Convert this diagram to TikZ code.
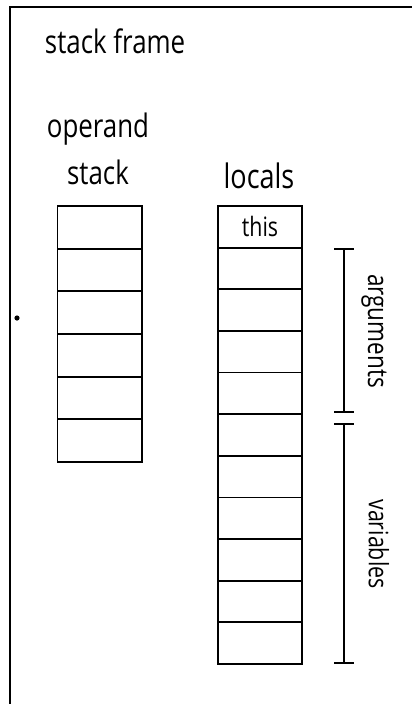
\documentclass[tikz,border=0pt]{standalone}
\usepackage{fontspec}
\setmainfont{Open Sans}[FakeStretch=0.8]
\usetikzlibrary{arrows.meta}
\tikzset{
  cell/.style={draw, line width=1.3pt, minimum width=2.11cm, inner sep=0pt},
  lbl/.style={font=\fontsize{23}{27}\selectfont},
  brace/.style={line width=1.1pt, {Bar[width=0.48cm]}-{Bar[width=0.48cm]}}
}

\begin{document}
\begin{tikzpicture}[x=0.025cm,y=-0.025cm]
            \useasboundingbox (0,0) rectangle (412,704);
            \clip (0,0) rectangle (412,704);
            \draw[line width=1.3pt] (10,7) rectangle (440,730);
            \node[lbl, anchor=base west] (title) at (40,53) {stack frame};
            % operand stack
            \node[lbl, anchor=base] (opname) at (98,137) {operand};
            \node[lbl, anchor=base] (opname2) at (98,184) {stack};
            \foreach \i in {1,...,6}
                \node[cell, minimum height=1.067cm] (op\i) at (99.75,{206+42.67*(\i-0.5)}) {};
            % locals
            \node[lbl, font=\fontsize{24}{28}\selectfont, anchor=base] (locname) at (259,188) {locals};
            \foreach \i in {1,...,11}
                \node[cell, minimum height=1.041cm] (loc\i) at (260,{206+41.64*(\i-0.5)}) {};
            \node[font=\fontsize{19}{22}\selectfont] (this) at (loc1) {this};
            % brackets
            \coordinate (argtop) at (344,248);
            \coordinate (argbot) at (344,413);
            \coordinate (vartop) at (344,423);
            \coordinate (varbot) at (344,664);
            \draw[brace] (argtop) -- (argbot);
            \draw[brace] (vartop) -- (varbot);
            \node[font=\fontsize{20}{24}\selectfont, rotate=-90] (args) at (374,331) {arguments};
            \node[font=\fontsize{19}{22}\selectfont, rotate=-90] (vars) at (379,544) {variables};
            \node[circle, fill, inner sep=0pt, minimum size=0.13cm] (dot) at (17,318) {};
        \end{tikzpicture}
\end{document}
